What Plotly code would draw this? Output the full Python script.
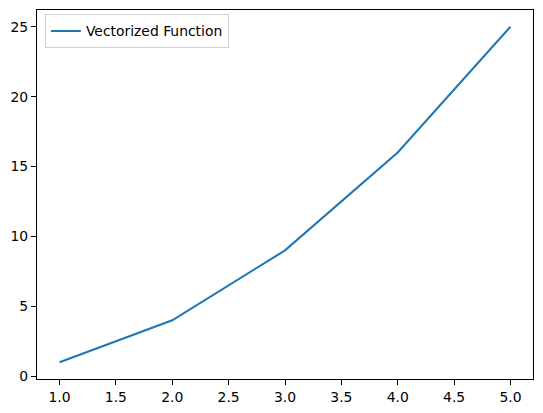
import plotly.graph_objs as go

# data
x_values = [1, 2, 3, 4, 5]
y_values = [1, 4, 9, 16, 25]
series_name = 'Vectorized Function'

x_ticks = [1.0, 1.5, 2.0, 2.5, 3.0, 3.5, 4.0, 4.5, 5.0]
y_ticks = [0, 5, 10, 15, 20, 25]

# the page body keeps an 8px margin, so the figure is shrunk by that much
W, H = 535, 405
L, R, T, B = 29, 10, 2, 33.5

line = go.Scatter(
    x=x_values,
    y=y_values,
    mode='lines',
    name=series_name,
    line=dict(color='#1f77b4', width=2.1),
)

axis_common = dict(
    showgrid=False,
    zeroline=False,
    showline=True,
    mirror=True,
    automargin=False,
    linecolor='black',
    linewidth=1.1,
    ticks='outside',
    ticklen=5,
    tickwidth=1.1,
    tickcolor='black',
    tickfont=dict(family='DejaVu Sans', size=13.9, color='black'),
)

layout = go.Layout(
    width=W,
    height=H,
    paper_bgcolor='white',
    plot_bgcolor='white',
    margin=dict(l=L, r=R, t=T, b=B, pad=0),
    showlegend=True,
    xaxis=dict(
        range=[0.8, 5.2],
        tickvals=x_ticks,
        ticktext=[f'{v:.1f}' for v in x_ticks],
        **axis_common,
    ),
    yaxis=dict(
        range=[-0.2, 26.2],
        tickvals=y_ticks,
        ticktext=[str(v) for v in y_ticks],
        **axis_common,
    ),
    legend=dict(
        x=0.016,
        y=0.988,
        xanchor='left',
        yanchor='top',
        bgcolor='rgba(255,255,255,0.8)',
        bordercolor='#d0d0d0',
        borderwidth=1,
        font=dict(family='DejaVu Sans', size=13.9, color='black'),
        itemwidth=30,
    ),
)

fig = go.Figure(data=[line], layout=layout)
fig.write_html('out.html')
